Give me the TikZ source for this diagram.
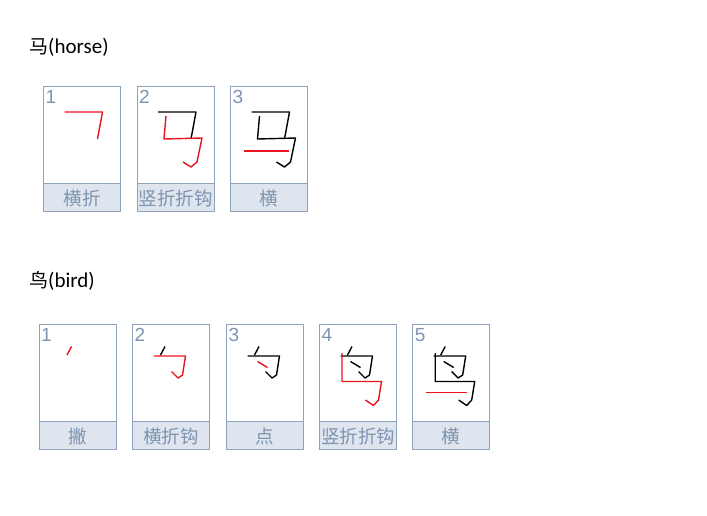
\documentclass[tikz,border=0pt]{standalone}
\usepackage{fontspec}
\setmainfont{Carlito}
\newfontfamily\cjk{Noto Sans CJK SC}
\newfontfamily\numfont{Liberation Sans}
\definecolor{boxline}{RGB}{143,163,190}
\definecolor{bandfill}{RGB}{222,229,238}
\definecolor{labeltext}{RGB}{126,148,176}
\definecolor{strokered}{RGB}{232,20,30}
\tikzset{
  boxframe/.style={draw=boxline, line width=1pt, fill=white},
  bandbox/.style={draw=boxline, line width=1pt, fill=bandfill},
  numlabel/.style={anchor=north west, inner sep=0pt, text=labeltext, font=\numfont\fontsize{19}{19}\selectfont},
  namelabel/.style={anchor=center, inner sep=0pt, text=labeltext, font=\cjk\fontsize{18.5}{18.5}\selectfont},
  titlelabel/.style={anchor=west, inner sep=0pt, font=\fontsize{21}{22}\selectfont},
  done/.style={draw=black, line width=1.4pt, line join=round},
  current/.style={draw=strokered, line width=1.4pt, line join=round},
}
% box: #1 = x, #2 = y, #3 = name, #4 = number, #5 = label
\newcommand\strokebox[5]{%
  \draw[boxframe] (#1,#2) rectangle ++(77,125);
  \draw[bandbox] (#1,#2+97) rectangle ++(77,28);
  \node[numlabel] (#3num) at (#1+2,#2+4) {#4};
  \node[namelabel] (#3lab) at (#1+38.5,#2+112) {#5};
}
% horse strokes
\newcommand\maA[1]{\draw[#1] (21,26) -- (59,26) -- (54,53);}
\newcommand\maB[1]{\draw[#1] (29,30) -- (27,53) -- (65,52) -- (60,76) -- (54,81) -- (46,76);}
\newcommand\maC[1]{\draw[#1] (13,65) -- (58,65);}
% bird strokes
\newcommand\niaoA[1]{\draw[#1] (32.5,22.5) -- (28,31);}
\newcommand\niaoB[1]{\draw[#1] (21,32) -- (53,32) -- (50,51) -- (45.5,54) -- (39,47.5);}
\newcommand\niaoC[1]{\draw[#1] (31,37.5) -- (41,43.5);}
\newcommand\niaoD[1]{\draw[#1] (22.5,29) -- (22.5,57.5) -- (62,57.5) -- (59,76) -- (54,81.5) -- (46,76);}
\newcommand\niaoE[1]{\draw[#1] (13,68.5) -- (54,68.5);}
\begin{document}
\begin{tikzpicture}[x=1pt,y=-1pt]
\useasboundingbox (0,0) rectangle (707,515);
\fill[white] (0,0) rectangle (707,515);
\node[titlelabel] (horsetitle) at (29,47) {{\cjk\fontsize{19}{20}\selectfont 马}(horse)};
\node[titlelabel] (birdtitle) at (29,281) {{\cjk\fontsize{19}{20}\selectfont 鸟}(bird)};
% horse
\strokebox{43.5}{86}{ha}{1}{{\cjk 横折}}
\strokebox{137}{86}{hb}{2}{{\cjk 竖折折钩}}
\strokebox{230.5}{86}{hc}{3}{{\cjk 横}}
\begin{scope}[shift={(43.5,86)}] \maA{current} \end{scope}
\begin{scope}[shift={(137,86)}] \maA{done} \maB{current} \end{scope}
\begin{scope}[shift={(230.5,86)}] \maA{done} \maB{done} \maC{current} \end{scope}
% bird
\strokebox{39}{324}{ba}{1}{{\cjk 撇}}
\strokebox{132.5}{324}{bb}{2}{{\cjk 横折钩}}
\strokebox{226.5}{324}{bc}{3}{{\cjk 点}}
\strokebox{319.5}{324}{bd}{4}{{\cjk 竖折折钩}}
\strokebox{412.7}{324}{be}{5}{{\cjk 横}}
\begin{scope}[shift={(39,324)}] \niaoA{current} \end{scope}
\begin{scope}[shift={(132.5,324)}] \niaoA{done} \niaoB{current} \end{scope}
\begin{scope}[shift={(226.5,324)}] \niaoA{done} \niaoB{done} \niaoC{current} \end{scope}
\begin{scope}[shift={(319.5,324)}] \niaoA{done} \niaoB{done} \niaoC{done} \niaoD{current} \end{scope}
\begin{scope}[shift={(412.7,324)}] \niaoA{done} \niaoB{done} \niaoC{done} \niaoD{done} \niaoE{current} \end{scope}
\end{tikzpicture}
\end{document}
